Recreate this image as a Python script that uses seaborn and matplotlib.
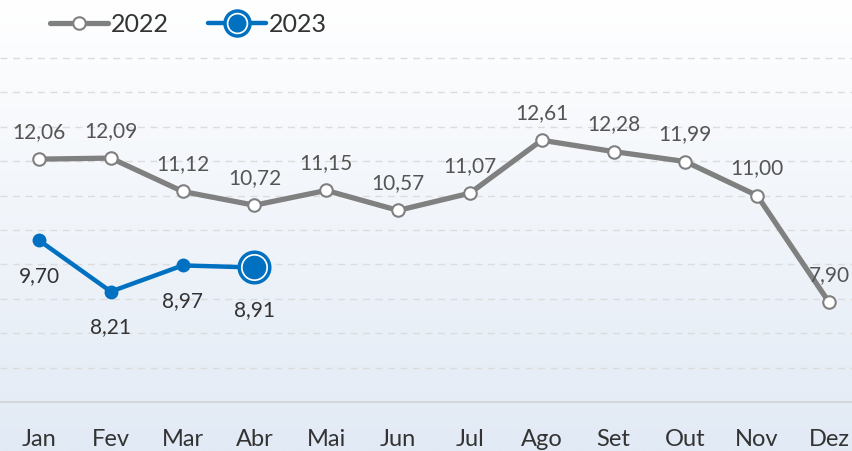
import numpy as np
import matplotlib
matplotlib.use('Agg')
import matplotlib.pyplot as plt
from matplotlib.lines import Line2D
import seaborn as sns

# ---- dados ----
MESES = ['Jan', 'Fev', 'Mar', 'Abr', 'Mai', 'Jun', 'Jul', 'Ago', 'Set', 'Out', 'Nov', 'Dez']
VAL_2022 = [12.06, 12.09, 11.12, 10.72, 11.15, 10.57, 11.07, 12.61, 12.28, 11.99, 11.00, 7.90]
VAL_2023 = [9.70, 8.21, 8.97, 8.91]

CINZA = '#808080'
AZUL = '#0070c0'

sns.set_theme(style='white')
plt.rcParams['font.family'] = ['Lato', 'DejaVu Sans']

fig = plt.figure(figsize=(8.52, 4.52), dpi=100)

# fundo em degradê
bg = fig.add_axes([0, 0, 1, 1], zorder=0)
grad = np.linspace(0, 1, 256).reshape(-1, 1)
cmap = matplotlib.colors.LinearSegmentedColormap.from_list('bg', ['#ffffff', '#e2eaf5'])
bg.imshow(grad, aspect='auto', cmap=cmap, extent=[0, 1, 0, 1], origin='upper')
bg.axis('off')

ax = fig.add_axes([0, 49 / 452, 1, 403 / 452], zorder=1)
ax.patch.set_alpha(0)

x22 = np.arange(len(VAL_2022))
x23 = np.arange(len(VAL_2023))

sns.lineplot(x=x22, y=VAL_2022, ax=ax, color=CINZA, lw=3.8, zorder=2)
ax.plot(x22, VAL_2022, ls='none', marker='o', ms=9, mfc='white', mec=CINZA, mew=1.5, zorder=3)

sns.lineplot(x=x23, y=VAL_2023, ax=ax, color=AZUL, lw=3.2, zorder=4)
ax.plot(x23[:-1], VAL_2023[:-1], ls='none', marker='o', ms=9, color=AZUL, zorder=5)
# último ponto destacado
ax.plot(x23[-1:], VAL_2023[-1:], ls='none', marker='o', ms=22, mfc='white', mec=AZUL, mew=2.5, zorder=5)
ax.plot(x23[-1:], VAL_2023[-1:], ls='none', marker='o', ms=16, color=AZUL, zorder=6)

fmt = lambda v: f'{v:.2f}'.replace('.', ',')
for xi, v in zip(x22, VAL_2022):
    ax.annotate(fmt(v), (xi, v), xytext=(0, 13), textcoords='offset points',
                ha='center', va='bottom', fontsize=15, color='#555555')
for xi, v in zip(x23, VAL_2023):
    off = -23 if xi == x23[-1] else -18
    ax.annotate(fmt(v), (xi, v), xytext=(0, off), textcoords='offset points',
                ha='center', va='top', fontsize=15, color='#333333')

ax.set_ylim(5, 5 + 403 / 34.4)
ax.set_xlim(-39 / 71.8, 11 + 23 / 71.8)
ax.set_yticks(np.arange(6, 16))
ax.yaxis.grid(True, color='#dcdcdc', ls=(0, (5, 4)), lw=1)
ax.tick_params(axis='y', left=False, labelleft=False)
ax.set_xticks(x22)
ax.set_xticklabels(MESES, fontsize=17, color='#333333')
ax.tick_params(axis='x', length=0, pad=19)
for s in ['top', 'right', 'left']:
    ax.spines[s].set_visible(False)
ax.spines['bottom'].set_color('#d6d6d6')
ax.spines['bottom'].set_linewidth(1.5)

h22 = Line2D([], [], color=CINZA, lw=3.8, marker='o', ms=9, mfc='white', mec=CINZA, mew=1.5)
h23a = Line2D([], [], color=AZUL, lw=3.2, marker='o', ms=18, mfc='white', mec=AZUL, mew=2.5)
h23b = Line2D([], [], ls='none', marker='o', ms=12, color=AZUL)
ax.legend([h22, (h23a, h23b)], ['2022', '2023'], loc='center left',
          bbox_to_anchor=(50 / 852, 1 - 25 / 403), borderpad=0, borderaxespad=0,
          ncol=2, frameon=False, fontsize=18, handlelength=2.3, handletextpad=0.15,
          columnspacing=1.55, labelcolor='#333333')

fig.savefig('out.png', dpi=100)
